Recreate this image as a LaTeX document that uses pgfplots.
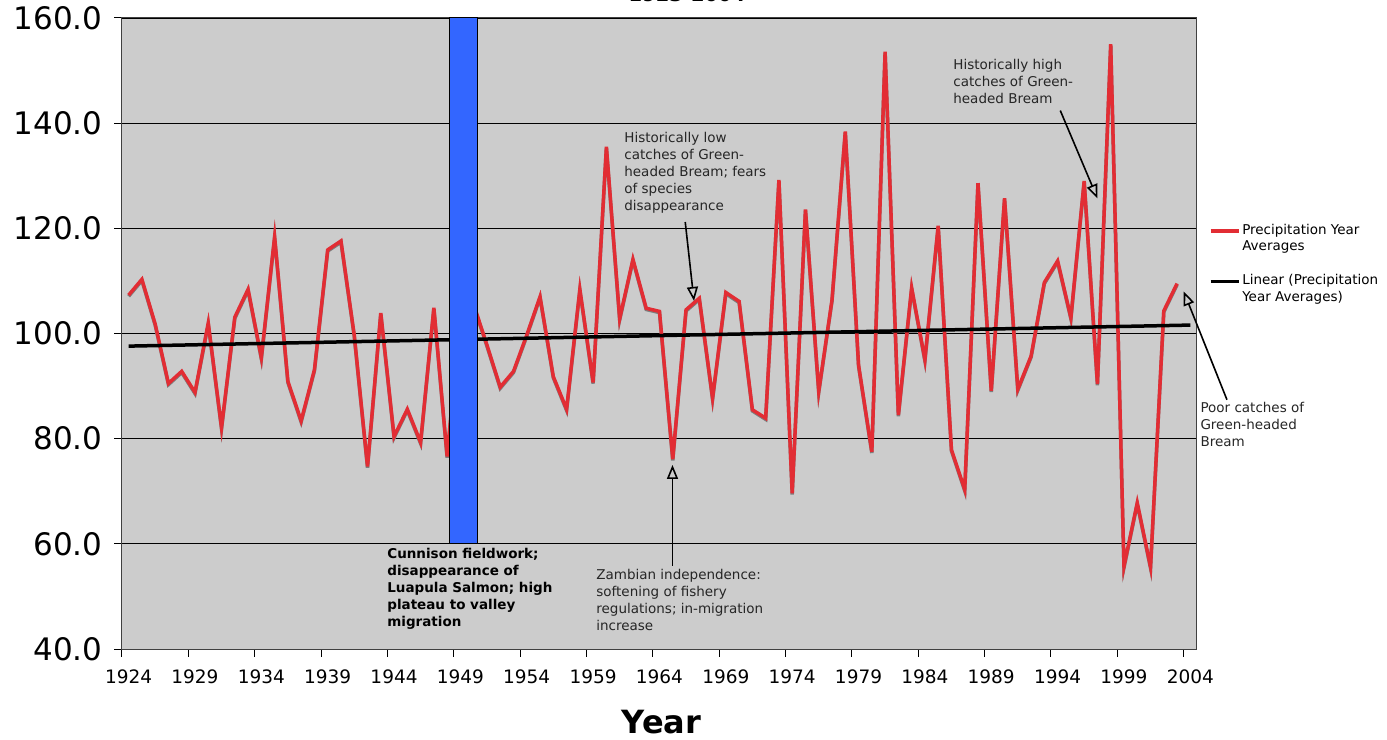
\documentclass[border=0pt]{standalone}
\usepackage{fontspec}
\setmainfont{DejaVu Sans}
\usepackage{pgfplots}
\usepackage{pgfplotstable}
\pgfplotsset{compat=1.18}
\usetikzlibrary{arrows.meta}

\definecolor{precip}{RGB}{226,45,52}
\definecolor{dropgray}{RGB}{125,125,125}
\definecolor{plotbg}{RGB}{204,204,204}
\definecolor{barblue}{RGB}{51,102,255}

% yearly precipitation averages
\pgfplotstableread{
year value
1924 107.3
1925 110.3
1926 101.8
1927 90.5
1928 92.8
1929 88.8
1930 102.0
1931 82.1
1932 103.1
1933 108.4
1934 95.4
1935 118.4
1936 90.9
1937 83.4
1938 93.1
1939 115.9
1940 117.6
1941 99.7
1942 74.7
1943 103.9
1944 80.4
1945 85.6
1946 79.3
1947 104.9
1948 76.6
1949 104.0
1950 105.5
1951 97.8
1952 89.8
1953 92.8
1954 99.7
1955 107.0
1956 91.8
1957 85.6
1958 108.4
1959 90.7
1960 135.5
1961 102.8
1962 114.1
1963 104.8
1964 104.2
1965 76.1
1966 104.5
1967 106.7
1968 87.7
1969 107.8
1970 106.1
1971 85.5
1972 83.9
1973 129.2
1974 69.6
1975 123.6
1976 89.0
1977 106.4
1978 138.4
1979 94.0
1980 77.5
1981 153.6
1982 84.5
1983 108.7
1984 95.0
1985 120.5
1986 77.9
1987 70.3
1988 128.6
1989 89.1
1990 125.7
1991 89.4
1992 95.7
1993 109.7
1994 113.8
1995 103.0
1996 129.0
1997 90.4
1998 155.0
1999 55.7
2000 67.8
2001 55.6
2002 104.3
2003 109.5
}\precip

\begin{document}
\begin{tikzpicture}[
  note/.style={font=\fontsize{13.5bp}{17bp}\selectfont, align=left, anchor=north west, inner sep=0pt, text=black!85},
  pointer/.style={-{Triangle[open, length=14bp, width=11bp]}, line width=1.6bp, black}
]
\begin{axis}[
  scale only axis, width=1075bp, height=631bp,
  xmin=1923.5, xmax=2004.5, ymin=40, ymax=160,
  clip=false,
  axis background/.style={fill=plotbg},
  axis line style={draw=black!75, line width=1bp},
  xtick={1923.5,1928.5,1933.5,1938.5,1943.5,1948.5,1953.5,1958.5,1963.5,1968.5,1973.5,1978.5,1983.5,1988.5,1993.5,1998.5,2003.5},
  xticklabels={1924,1929,1934,1939,1944,1949,1954,1959,1964,1969,1974,1979,1984,1989,1994,1999,2004},
  xticklabel style={font=\fontsize{18.5bp}{20bp}\selectfont, xshift=6.6bp, yshift=-9bp},
  ytick={40,60,...,160},
  yticklabel style={font=\fontsize{31bp}{33bp}\selectfont, xshift=-8bp, /pgf/number format/.cd, fixed, fixed zerofill, precision=1, assume math mode=true},
  xtick pos=left, ytick pos=left,
  tick align=outside, major tick length=8bp,
  tick style={black, line width=1bp},
  ymajorgrids, grid style={black, line width=0.8bp},
  title={1923-2004},
  title style={font=\bfseries\fontsize{19.5bp}{20bp}\selectfont, at={(0.5256,1)}, anchor=base, yshift=11bp},
  xlabel={Year},
  xlabel style={font=\bfseries\fontsize{32bp}{34bp}\selectfont, at={(axis description cs:0.502,0)}, anchor=base, yshift=-84bp},
  legend style={draw=none, fill=none, at={(1.008,0.68)}, anchor=north west,
    font=\fontsize{13.5bp}{16.5bp}\selectfont, nodes={align=left}, row sep=18bp},
  legend cell align=left,
  legend image code/.code={\draw[#1] (0bp,7bp) -- (28bp,7bp);},
]
\addplot[dropgray, line width=3.5bp, yshift=-1.2bp, forget plot] table[x=year, y=value] {\precip};
\addplot[precip, line width=3.5bp] table[x=year, y=value] {\precip};
\addlegendentry{Precipitation Year\\Averages}
\addplot[black, line width=3.5bp] coordinates {(1924,97.6) (2004,101.6)};
\addlegendentry{Linear (Precipitation\\Year Averages)}
\addplot[fill=barblue, draw=black, line width=1bp, forget plot] coordinates {(1948.18,60) (1950.28,60) (1950.28,160) (1948.18,160)} -- cycle;

\node[note] at (axis cs:1961.34,138.3) {Historically low\\catches of Green-\\headed Bream; fears\\of species\\disappearance};
\draw[pointer] (axis cs:1965.94,121.2) -- (axis cs:1966.6,106.2);
\node[note] at (axis cs:1986.13,152.2) {Historically high\\catches of Green-\\headed Bream};
\draw[pointer] (axis cs:1994.2,142.4) -- (axis cs:1997.0,125.7);
\node[note] at (axis cs:2004.75,87.0) {Poor catches of\\Green-headed\\Bream};
\draw[pointer] (axis cs:2006.76,87.4) -- (axis cs:2003.5,108.0);
\node[note] at (axis cs:1959.23,55.2) {Zambian independence:\\softening of fishery\\regulations;  in-migration\\increase};
\draw[pointer] (axis cs:1964.98,55.8) -- (axis cs:1964.98,75.0);
\node[note, font=\bfseries\fontsize{13.5bp}{17bp}\selectfont, text=black] at (axis cs:1943.48,59.2) {Cunnison fieldwork;\\disappearance of\\Luapula Salmon; high\\plateau to valley\\migration};
\end{axis}
\pgfresetboundingbox
\path[use as bounding box] (-122bp,-91bp) rectangle (1265bp,649bp);
\end{tikzpicture}
\end{document}
